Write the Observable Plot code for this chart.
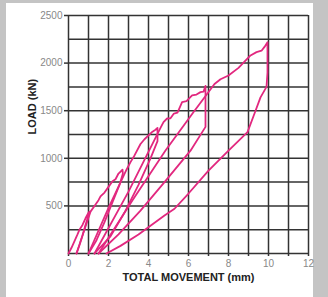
<!DOCTYPE html>
<html><head><meta charset="utf-8">
<script src="https://cdn.jsdelivr.net/npm/d3@7"></script>
<script src="https://cdn.jsdelivr.net/npm/@observablehq/plot@0.6"></script>
<style>
html,body{margin:0;padding:0;background:#c4c4c4;width:328px;height:297px;overflow:hidden}
#panel{position:absolute;left:6px;top:3px;width:307px;height:294px;background:#fff}
#panel svg{overflow:visible}
</style></head><body><div id="panel"></div>
<script>
const xTicks = [0, 2, 4, 6, 8, 10, 12];
const yTicks = [500, 1000, 1500, 2000, 2500];
const xGrid = [0,1,2,3,4,5,6,7,8,9,10,11,12];
const yGrid = [0,250,500,750,1000,1250,1500,1750,2000,2250,2500];

// load cycles: [movement (mm), load (kN)]
const cycle1 = [[0,0],[0.15,60],[0.3,130],[0.45,200],[0.55,250],[0.7,300],[0.85,370],[1.0,430],[1.05,440],[1.0,400],[0.85,300],[0.7,190],[0.55,90],[0.4,0]];
const cycle2 = [[0.4,0],[0.75,220],[1.1,440],[1.3,500],[1.5,560],[1.6,600],[1.8,640],[2.0,700],[2.2,760],[2.35,780],[2.5,840],[2.7,880],[2.72,840],[2.55,720],[2.2,540],[1.8,330],[1.4,140],[1.0,0]];
const cycle3 = [[1.0,0],[2.0,480],[2.9,880],[3.1,960],[3.3,1030],[3.6,1150],[3.8,1200],[4.0,1240],[4.2,1280],[4.35,1300],[4.45,1320],[4.45,1180],[4.1,1000],[3.5,720],[2.8,430],[2.1,180],[1.3,0]];
const cycle4 = [[1.3,0],[3.0,650],[4.6,1320],[4.75,1380],[4.93,1418],[5.1,1420],[5.27,1470],[5.45,1480],[5.68,1590],[5.9,1600],[6.18,1660],[6.4,1670],[6.6,1695],[6.75,1700],[6.85,1760],[6.85,1330],[6.1,1080],[4.8,750],[3.6,450],[2.5,200],[1.5,0]];
const cycle5 = [[1.5,0],[3.2,560],[4.85,1082],[6.2,1470],[7.3,1780],[7.6,1830],[8.0,1870],[8.5,1950],[9.1,2080],[9.4,2115],[9.65,2130],[9.8,2170],[9.95,2220],[9.95,1900],[9.9,1750],[9.6,1640],[9.3,1470],[8.95,1275],[8.0,1080],[7.0,870],[6.0,630],[5.3,470],[4.8,400],[3.5,200],[2.6,80],[1.9,0]];

const cycles = [cycle1, cycle2, cycle3, cycle4, cycle5];
const pts = cycles.flatMap((c, i) => c.map(([x, y]) => ({x, y, cycle: i + 1})));

const pink = "#e2287f";
const grid = "#333";
const chart = Plot.plot({
  width: 307, height: 294,
  marginLeft: 62, marginRight: 5, marginTop: 12, marginBottom: 44,
  style: {fontFamily: "'Liberation Sans', Arial, sans-serif", background: "transparent", overflow: "visible"},
  x: {domain: [0, 12]},
  y: {domain: [0, 2500]},
  marks: [
    Plot.ruleX(xGrid, {stroke: grid, strokeWidth: 1.5}),
    Plot.ruleY(yGrid, {stroke: grid, strokeWidth: 1.5}),
    Plot.axisX({ticks: xGrid, tickSize: 3, tickFormat: () => "", label: null, stroke: grid, strokeWidth: 1.5}),
    Plot.axisX({ticks: xTicks, tickSize: 0, tickPadding: 6, tickFormat: d3.format("d"), label: null, fill: "#888", fontSize: 10}),
    Plot.axisY({ticks: yTicks, tickSize: 4, tickPadding: 2, tickFormat: d3.format("d"), label: null, fill: "#888", fontSize: 10, stroke: grid, strokeWidth: 1.5}),
    Plot.line(pts, {x: "x", y: "y", z: "cycle", stroke: pink, strokeWidth: 1.8, strokeLinejoin: "round"}),
    Plot.text(["TOTAL MOVEMENT (mm)"], {frameAnchor: "bottom", dy: 27, text: d => d, fontWeight: "bold", fontSize: 11, fill: "#222"}),
    Plot.text(["LOAD (kN)"], {frameAnchor: "left", dx: -36, rotate: -90, text: d => d, fontWeight: "bold", fontSize: 11, fill: "#222"})
  ]
});
document.getElementById("panel").appendChild(chart);
</script></body></html>
